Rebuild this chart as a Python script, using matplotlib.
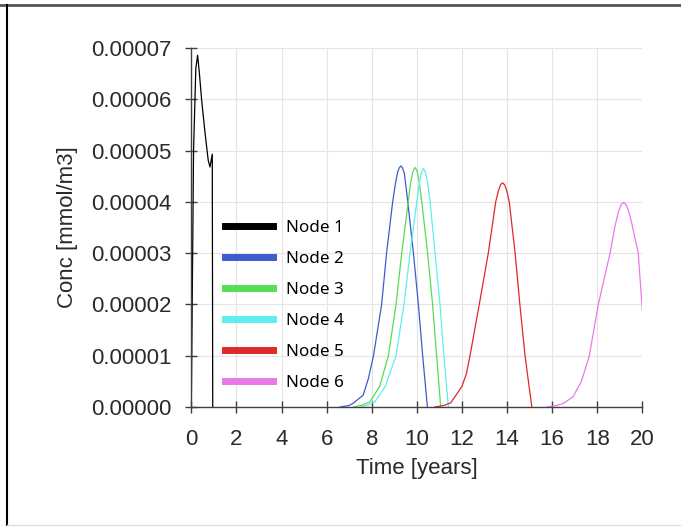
import matplotlib
matplotlib.use("Agg")
import matplotlib.pyplot as plt
from matplotlib.lines import Line2D
from matplotlib.ticker import FormatStrFormatter

# concentration, in 1e-5 mmol/m3
t1 = [0, 0.1, 0.2, 0.28, 0.36, 0.46, 0.61, 0.75, 0.83, 0.93, 0.95]
c1 = [0, 5.0, 6.6, 6.86, 6.5, 5.98, 5.34, 4.81, 4.68, 4.93, 0]

t2 = [6.6, 7.0, 7.2, 7.62, 7.85, 8.08, 8.44, 8.66, 8.93, 9.05, 9.15, 9.23, 9.3, 9.37, 9.45, 9.6, 9.85, 10.07, 10.26, 10.47]
c2 = [0, 0.03, 0.08, 0.23, 0.55, 1.0, 2.0, 3.0, 4.0, 4.35, 4.58, 4.67, 4.70, 4.66, 4.55, 4.0, 3.0, 2.0, 1.0, 0]

t3 = [7.2, 7.6, 7.92, 8.35, 8.74, 9.08, 9.33, 9.62, 9.72, 9.82, 9.92, 10.0, 10.1, 10.22, 10.48, 10.7, 10.88, 11.06]
c3 = [0, 0.04, 0.1, 0.4, 1.0, 2.0, 3.0, 4.0, 4.35, 4.58, 4.67, 4.62, 4.42, 4.0, 3.0, 2.0, 1.0, 0]

t4 = [7.5, 7.85, 8.14, 8.6, 9.08, 9.43, 9.7, 10.0, 10.1, 10.2, 10.29, 10.37, 10.47, 10.59, 10.81, 11.03, 11.2, 11.4]
c4 = [0, 0.04, 0.1, 0.4, 1.0, 2.0, 3.0, 4.0, 4.33, 4.56, 4.65, 4.6, 4.4, 4.0, 3.0, 2.0, 1.0, 0]

t5 = [10.8, 11.2, 11.5, 12.0, 12.2, 12.36, 12.77, 13.17, 13.5, 13.62, 13.72, 13.81, 13.9, 14.0, 14.1, 14.36, 14.57, 14.8, 15.1]
c5 = [0, 0.03, 0.08, 0.4, 0.65, 1.0, 2.0, 3.0, 4.0, 4.22, 4.34, 4.37, 4.33, 4.2, 4.0, 3.0, 2.0, 1.0, 0]

t6 = [15.8, 16.2, 16.5, 16.93, 17.3, 17.65, 18.05, 18.57, 18.8, 18.95, 19.07, 19.18, 19.3, 19.42, 19.55, 19.82, 20.0]
c6 = [0, 0.03, 0.07, 0.2, 0.5, 1.0, 2.0, 3.0, 3.55, 3.82, 3.95, 3.99, 3.93, 3.78, 3.55, 3.0, 1.89]

labels = ["Node 1", "Node 2", "Node 3", "Node 4", "Node 5", "Node 6"]
colors = ["black", "#3d5ccc", "#55dd55", "#5eeeee", "#e02828", "#e87ae8"]
series = [(t1, c1), (t2, c2), (t3, c3), (t4, c4), (t5, c5), (t6, c6)]

plt.rcParams['font.family'] = ['Liberation Sans', 'DejaVu Sans']

fig = plt.figure(figsize=(6.81, 5.30), dpi=100)
ax = fig.add_axes([191.3 / 681, 1 - 407 / 530, 451 / 681, 359 / 530])

for (t, c), lab, col in zip(series, labels, colors):
    ax.plot(t, [v * 1e-5 for v in c], color=col, lw=0.9, label=lab)

ax.set_xlim(0, 20)
ax.set_ylim(0, 0.00007)
ax.set_xticks(range(0, 21, 2))
ax.set_yticks([i * 1e-5 for i in range(8)])
ax.yaxis.set_major_formatter(FormatStrFormatter('%.5f'))
ax.grid(True, color='#e4e4e4', lw=0.8)
ax.set_axisbelow(True)

for s in ['top', 'right']:
    ax.spines[s].set_visible(False)
for s in ['left', 'bottom']:
    ax.spines[s].set_color('#404040')
    ax.spines[s].set_linewidth(1.0)
ax.tick_params(direction='inout', length=9, width=1, color='#404040',
               labelsize=16, pad=10, labelcolor='#2a2a2a')
ax.tick_params(axis='x', pad=11)

ax.set_xlabel('Time [years]', fontsize=16, labelpad=6, color='#2a2a2a')
ax.set_ylabel('Conc [mmol/m3]', fontsize=16, labelpad=9, color='#2a2a2a')

leg = ax.legend(loc='upper left', bbox_to_anchor=(0.075, 0.522), frameon=False,
                prop={'family': 'Noto Sans', 'size': 12.3}, handlelength=2.8,
                handletextpad=0.75, labelspacing=0.88, borderpad=0, borderaxespad=0)
for h in leg.legend_handles:
    h.set_linewidth(5)

# outer frame of the screenshot
fig.add_artist(Line2D([0, 1], [1 - 5 / 530] * 2, color='#555555', lw=2))
fig.add_artist(Line2D([7 / 681] * 2, [1 - 5 / 530, 5 / 530], color='black', lw=1.5))
fig.add_artist(Line2D([7 / 681, 1], [5 / 530] * 2, color='#dddddd', lw=1))

fig.savefig('out.png', dpi=100)
